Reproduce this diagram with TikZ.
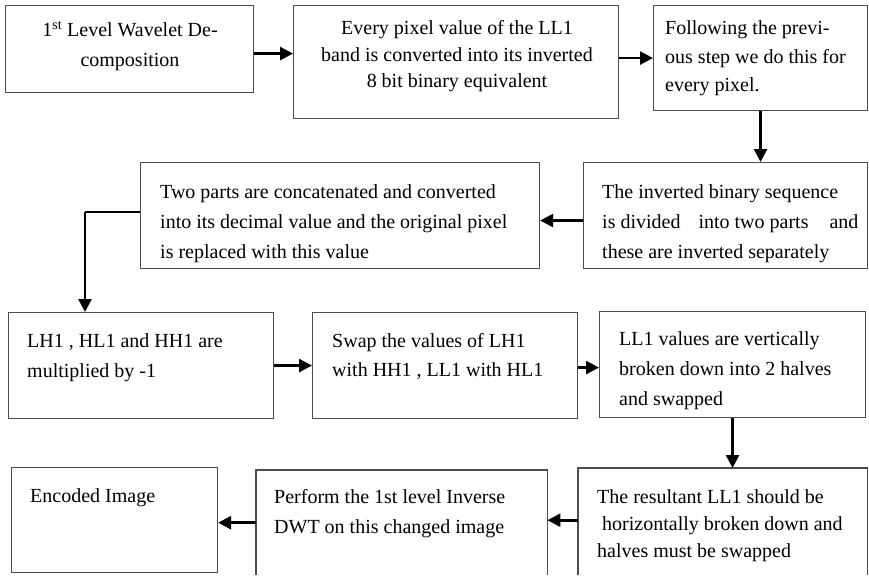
\documentclass[tikz,border=0pt]{standalone}
\usepackage{fontspec}
\setmainfont{Liberation Serif}
\usetikzlibrary{arrows.meta,calc}
\begin{document}
\begin{tikzpicture}[x=1pt,y=-1pt,
  box/.style={draw=black!70, line width=1.1pt, rectangle, inner sep=0pt, anchor=north west},
  openbox/.style={rectangle, inner sep=0pt, anchor=north west},
  boxline/.style={draw=black!70, line width=1.1pt},
  txt/.style={align=left, inner sep=0pt, anchor=base west},
  ctxt/.style={align=center, inner sep=0pt, anchor=base},
  arr/.style={line width=2.6pt, -{Triangle[length=13pt,width=13pt]}},
  plain/.style={line width=1.4pt}]
\useasboundingbox (0,0) rectangle (869,575);
% boxes
\node[box, minimum width=248pt, minimum height=87pt] (b1) at (5,5) {};
\node[box, minimum width=325pt, minimum height=113pt] (b2) at (293,5) {};
\node[box, minimum width=214pt, minimum height=105pt] (b3) at (653,5) {};
\node[box, minimum width=284pt, minimum height=106pt] (b4) at (583,162) {};
\node[box, minimum width=399pt, minimum height=106pt] (b5) at (140,162) {};
\node[box, minimum width=265pt, minimum height=106pt] (b6) at (8,312) {};
\node[box, minimum width=265pt, minimum height=106pt] (b7) at (312,312) {};
\node[box, minimum width=266pt, minimum height=106pt] (b8) at (599,311) {};
\node[openbox, minimum width=289pt, minimum height=107pt] (b9) at (578,468) {};
\node[openbox, minimum width=291pt, minimum height=105pt] (b10) at (256,470) {};
\node[box, minimum width=206pt, minimum height=105pt] (b11) at (11,467) {};
\draw[boxline] (b9.south west) -- (b9.north west) -- (b9.north east) -- (b9.south east);
\draw[boxline] (b10.south west) -- (b10.north west) -- (b10.north east) -- (b10.south east);
% texts (anchor base = baseline of last line)
\node[ctxt, font=\fontsize{20}{30}\selectfont] (t1) at (130,67) {1\textsuperscript{st} Level Wavelet De-\\composition};
\node[ctxt, font=\fontsize{20}{26.5}\selectfont] (t2) at (457,88) {Every pixel value of the LL1\\band is converted into its inverted\\8 bit binary equivalent};
\node[txt, font=\fontsize{20}{28.5}\selectfont] (t3) at (665,92) {Following the previ-\\ous step we do this for\\every pixel.};
\node[txt, font=\fontsize{20}{30}\selectfont] (t4) at (602,258) {The inverted binary sequence\\is divided\hspace{13pt} into two parts\hspace{16pt} and\\these are inverted separately};
\node[txt, font=\fontsize{20}{30}\selectfont] (t5) at (160,258) {Two parts are concatenated and converted\\into its decimal value and the original pixel\\is replaced with this value};
\node[txt, font=\fontsize{20}{30}\selectfont] (t6) at (27,377) {LH1 , HL1 and HH1 are\\multiplied by -1};
\node[txt, font=\fontsize{20}{29}\selectfont] (t7) at (332,376) {Swap the values of LH1\\with HH1 , LL1 with HL1};
\node[txt, font=\fontsize{20}{30}\selectfont] (t8) at (619,405) {LL1 values are vertically\\broken down into 2 halves\\and swapped};
\node[txt, font=\fontsize{20}{27}\selectfont] (t9) at (597,557) {The resultant LL1 should be\\\hspace{5pt}horizontally broken down and\\halves must be swapped};
\node[txt, font=\fontsize{20}{30}\selectfont] (t10) at (274,533) {Perform the 1st level Inverse\\DWT on this changed image};
\node[txt, font=\fontsize{20}{30}\selectfont] (t11) at (30,502) {Encoded Image};
% connectors
\draw[arr] ([yshift=-4.5pt]b1.east) -- ([yshift=-4.5pt]b1.east -| b2.west);
\draw[arr] (b2.east |- b3.west) -- (b3.west);
\draw[arr] (b3.south) -- (b3.south |- b4.north);
\draw[arr] ([yshift=-5pt]b4.west) -- ([yshift=-5pt]b4.west -| b5.east);
\coordinate (k) at (85,212);
\draw[plain] (b5.west |- k) -- (k);
\draw[arr] (k) -- (k |- b6.north);
\draw[arr] (b6.east) -- (b6.east -| b7.west);
\draw[arr] ([yshift=-2pt]b7.east) -- ([yshift=-2pt]b7.east -| b8.west);
\draw[arr] (b8.south) -- (b8.south |- b9.north);
\draw[arr] ([yshift=1.5pt]b9.west) -- ([yshift=1.5pt]b9.west -| b10.east);
\draw[arr] (b10.west) -- (b10.west -| b11.east);
\end{tikzpicture}
\end{document}
